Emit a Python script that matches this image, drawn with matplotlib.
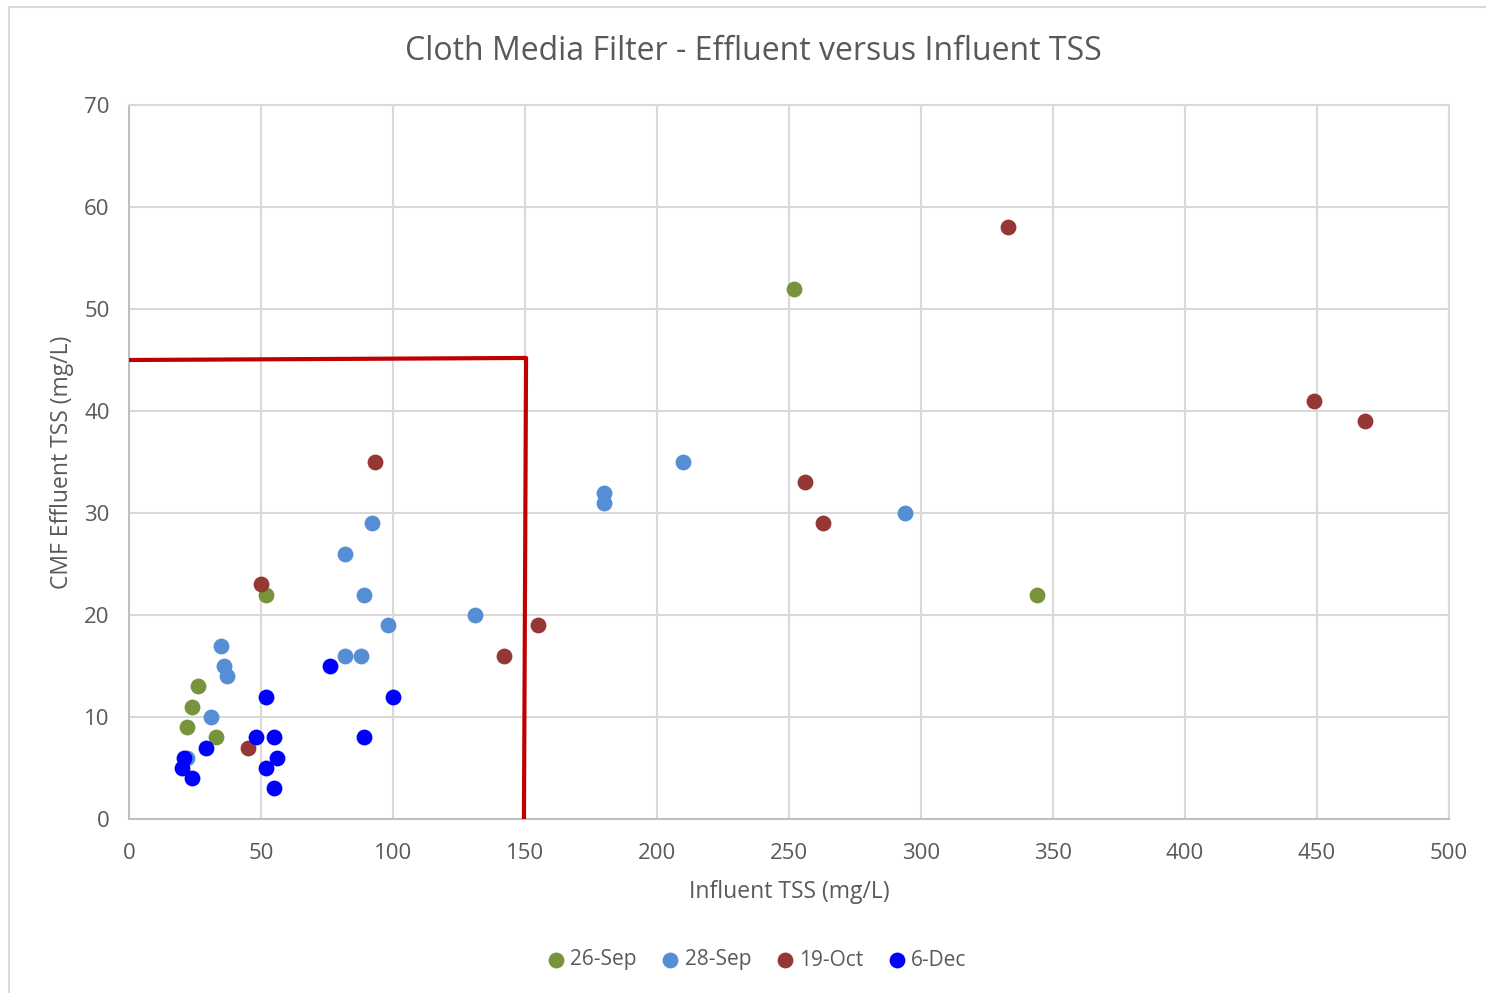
import matplotlib.pyplot as plt
from matplotlib.patches import Rectangle

# influent / effluent TSS (mg/L) per sampling day
sep26_in = [252, 344, 52, 26, 24, 22, 33]
sep26_out = [52, 22, 22, 13, 11, 9, 8]

sep28_in = [210, 180, 180, 294, 92, 82, 89, 98, 131, 35, 36, 37, 31, 82, 88, 22]
sep28_out = [35, 32, 31, 30, 29, 26, 22, 19, 20, 17, 15, 14, 10, 16, 16, 6]

oct19_in = [333, 449, 468, 256, 263, 93, 50, 142, 155, 45]
oct19_out = [58, 41, 39, 33, 29, 35, 23, 16, 19, 7]

dec6_in = [76, 52, 100, 48, 55, 89, 29, 56, 52, 55, 21, 20, 24]
dec6_out = [15, 12, 12, 8, 8, 8, 7, 6, 5, 3, 6, 5, 4]

# hand-drawn limit line
limit_x = [0, 150.4, 149.6]
limit_y = [45, 45.2, 0]

series = [
    ('26-Sep', sep26_in, sep26_out, '#77933C'),
    ('28-Sep', sep28_in, sep28_out, '#558ED5'),
    ('19-Oct', oct19_in, oct19_out, '#953735'),
    ('6-Dec', dec6_in, dec6_out, '#0000FF'),
]

plt.rcParams['font.family'] = ['Open Sans', 'DejaVu Sans']
text_color = '#595959'

W, H = 1486, 993
dpi = 100
fig = plt.figure(figsize=(W / dpi, H / dpi), dpi=dpi)

# chart border
fig.patches.append(Rectangle((9 / W, -0.1), 1.2, 1 - 7 / H + 0.1,
                             transform=fig.transFigure, fill=False,
                             edgecolor='#d9d9d9', linewidth=1.5))

ax = fig.add_axes([129 / W, 1 - 819 / H, 1320 / W, 714 / H])

for name, xs, ys, color in series:
    ax.scatter(xs, ys, s=130, color=color, label=name, zorder=3, linewidths=0)

ax.plot(limit_x, limit_y, color='#C00000', linewidth=3, zorder=4)

ax.set_xlim(0, 500)
ax.set_ylim(0, 70)
ax.set_xticks(range(0, 501, 50))
ax.set_yticks(range(0, 71, 10))
ax.grid(True, color='#d9d9d9', linewidth=1.5)
ax.set_axisbelow(True)
for side in ax.spines:
    ax.spines[side].set_color('#d9d9d9')
    ax.spines[side].set_linewidth(1.5)
ax.spines['left'].set_color('#bfbfbf')
ax.spines['bottom'].set_color('#bfbfbf')
ax.tick_params(length=0, labelsize=16, labelcolor=text_color)
ax.tick_params(axis='x', pad=17)
ax.tick_params(axis='y', pad=14)

ax.set_xlabel('Influent TSS (mg/L)', fontsize=16.5, color=text_color, labelpad=12)
ax.set_ylabel('CMF Effluent TSS (mg/L)', fontsize=16.5, color=text_color, labelpad=7)

fig.text(753 / W, 1 - 52 / H, 'Cloth Media Filter - Effluent versus Influent TSS',
         ha='center', va='center', fontsize=23, color=text_color)

fig.legend(loc='center', bbox_to_anchor=(757 / W, 1 - 960 / H), ncol=4,
           frameon=False, fontsize=15, labelcolor=text_color,
           handlelength=0.8, handletextpad=0.3, columnspacing=1.2,
           markerscale=1.0)

fig.savefig('out.png', dpi=dpi)
